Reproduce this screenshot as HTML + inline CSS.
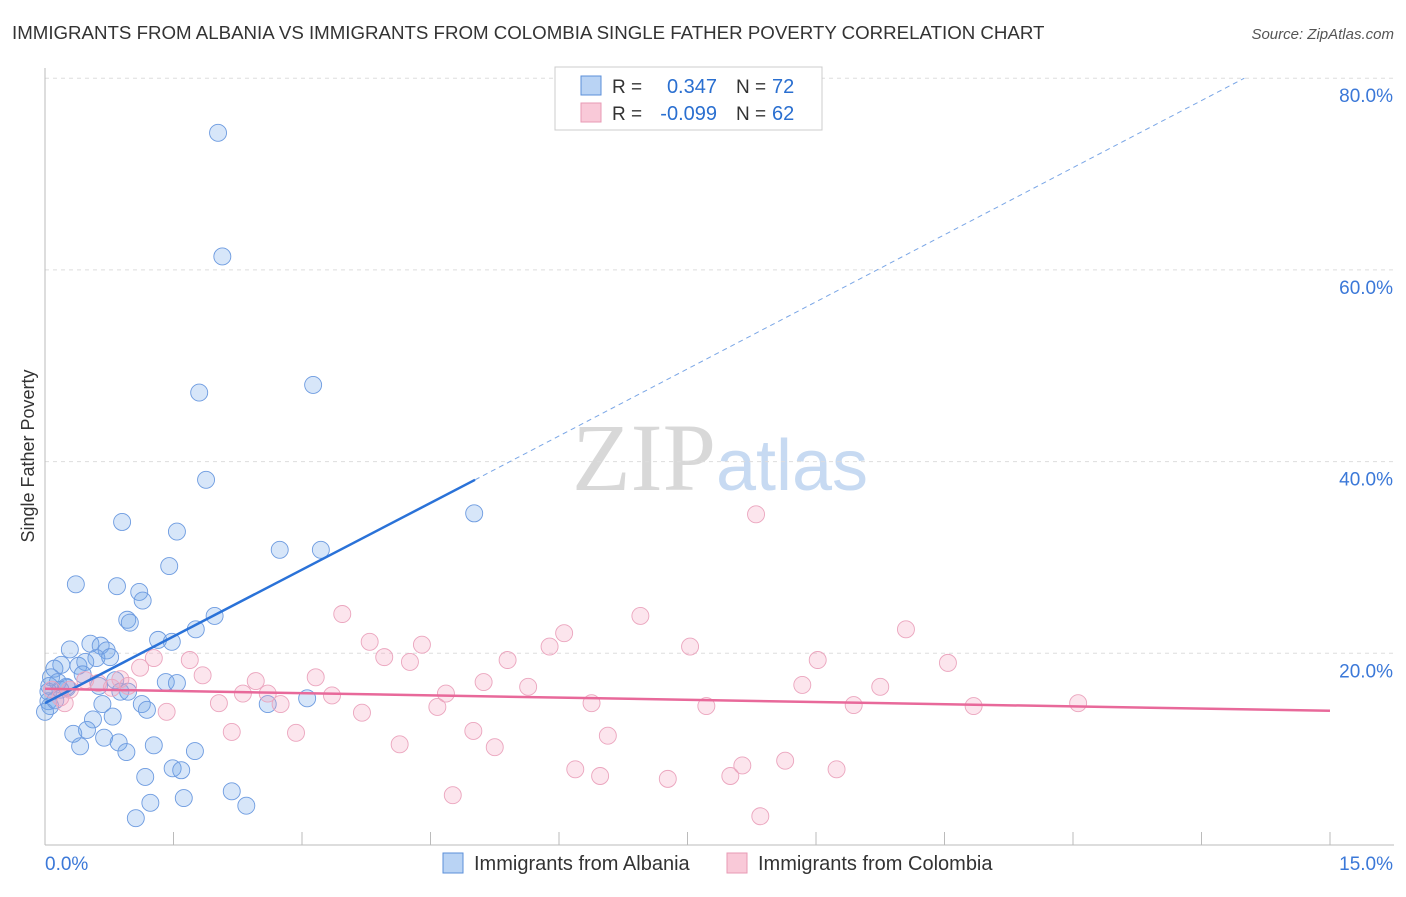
<!DOCTYPE html>
<html><head><meta charset="utf-8"><style>
body{margin:0;background:#fff;font-family:"Liberation Sans",sans-serif;}
svg text{font-family:"Liberation Sans",sans-serif;}
</style></head><body>
<svg id="chart" width="1406" height="892" xmlns="http://www.w3.org/2000/svg">
<text x="12" y="39" font-size="18.7" fill="#333">IMMIGRANTS FROM ALBANIA VS IMMIGRANTS FROM COLOMBIA SINGLE FATHER POVERTY CORRELATION CHART</text>
<text x="1394" y="39" font-size="15" fill="#555" text-anchor="end" font-style="italic">Source: ZipAtlas.com</text>
<text transform="translate(34,456) rotate(-90)" font-size="18" fill="#333" text-anchor="middle">Single Father Poverty</text>
<text x="720" y="490" font-size="96" text-anchor="middle"><tspan fill="#d8d8d8" font-family="Liberation Serif">ZIP</tspan><tspan fill="#c7daf2" font-size="72">atlas</tspan></text>
<g id="grid"></g><g id="axes"></g><g id="pts"></g><g id="lines"></g>
<g>
<rect x="555" y="67" width="267" height="63" fill="#fff" stroke="#ccc"/>
<rect x="581" y="76" width="20" height="19" fill="#b9d3f4" stroke="#5b8fd9"/>
<rect x="581" y="103" width="20" height="19" fill="#f9c9d8" stroke="#e89ab5"/>
<text x="612" y="93" font-size="19" fill="#333">R =</text>
<text x="717" y="93" font-size="20" fill="#2a6fd0" text-anchor="end">0.347</text>
<text x="736" y="93" font-size="19" fill="#333">N =</text>
<text x="772" y="93" font-size="20" fill="#2a6fd0">72</text>
<text x="612" y="120" font-size="19" fill="#333">R =</text>
<text x="717" y="120" font-size="20" fill="#2a6fd0" text-anchor="end">-0.099</text>
<text x="736" y="120" font-size="19" fill="#333">N =</text>
<text x="772" y="120" font-size="20" fill="#2a6fd0">62</text>
</g>
<g>
<rect x="443" y="853" width="20" height="20" fill="#b9d3f4" stroke="#5b8fd9"/>
<text x="474" y="870" font-size="20" fill="#333">Immigrants from Albania</text>
<rect x="727" y="853" width="20" height="20" fill="#f9c9d8" stroke="#e89ab5"/>
<text x="758" y="870" font-size="20" fill="#333">Immigrants from Colombia</text>
</g>
</svg>
<script>
const xTicks=[0,1.5,3,4.5,6,7.5,9,10.5,12,13.5,15];
const yTicks=[20,40,60,80];
const yTickLabels=["20.0%","40.0%","60.0%","80.0%"];
const xEndLabels=["0.0%","15.0%"];
const albaniaX=[2.02,2.07,1.80,3.13,1.88,0.90,1.54,5.01,2.74,3.22,1.45,0.36,0.84,1.10,1.14,0.96,0.99,1.98,1.76,1.32,1.48,0.53,0.29,0.65,0.72,0.60,0.76,0.19,0.39,0.11,0.47,0.07,0.44,0.15,0.26,0.05,0.63,0.82,1.41,1.54,0.88,0.97,0.04,0.06,1.13,1.19,0.67,2.60,3.06,0.56,0.79,0.49,0.33,0.69,0.86,0.41,0.95,1.27,1.75,1.17,1.49,1.59,1.62,1.23,1.06,2.18,2.35,0.18,0.04,0.25,0.0,0.12];
const albaniaY=[74.3,61.4,47.2,48.0,38.1,33.7,32.7,34.6,30.8,30.8,29.1,27.2,27.0,26.4,25.5,23.5,23.2,23.9,22.5,21.4,21.2,21.0,20.4,20.8,20.3,19.5,19.6,18.8,18.7,18.4,19.1,17.5,17.8,17.0,16.4,16.6,16.6,17.2,17.0,16.9,16.0,16.0,15.0,14.5,14.7,14.1,14.7,14.7,15.3,13.1,13.4,12.0,11.6,11.2,10.7,10.3,9.7,10.4,9.8,7.1,8.0,7.8,4.9,4.4,2.8,5.6,4.1,16.2,16.0,16.5,13.9,15.1];
const colombiaX=[8.30,3.47,6.95,10.05,6.06,3.79,4.40,5.89,7.53,1.27,1.69,3.96,4.26,5.40,9.02,10.54,1.11,1.84,3.16,2.46,5.12,5.64,8.84,9.75,0.62,0.78,2.31,2.60,3.35,4.68,2.03,2.75,6.38,7.72,9.44,10.84,12.06,4.58,1.42,3.70,5.00,2.18,2.93,6.57,4.14,5.25,8.14,6.19,6.48,7.27,8.00,8.64,9.24,4.76,8.35,0.18,0.29,0.47,0.97,0.88,0.08,0.23];
const colombiaY=[34.5,24.1,23.9,22.5,22.1,21.2,20.9,20.7,20.7,19.5,19.3,19.6,19.1,19.3,19.3,19.0,18.5,17.7,17.5,17.1,17.0,16.5,16.7,16.5,16.9,16.4,15.8,15.8,15.6,15.8,14.8,14.7,14.8,14.5,14.6,14.5,14.8,14.4,13.9,13.8,11.9,11.8,11.7,11.4,10.5,10.2,8.3,7.9,7.2,6.9,7.2,8.8,7.9,5.2,3.0,15.4,16.2,17.2,16.6,17.3,16.2,14.8];
const albaniaTrend=[[0,14.8],[5.02,38.1],[14.0,80]];
const colombiaTrend=[[0,16.3],[15,14.0]];
const NS="http://www.w3.org/2000/svg";
const X=v=>45+v/15*1285, Y=v=>845-v*9.585;
function mk(tag,attrs,parent){const e=document.createElementNS(NS,tag);for(const k in attrs)e.setAttribute(k,attrs[k]);document.getElementById(parent).appendChild(e);return e;}
yTicks.forEach((t,i)=>{
 const g=mk('line',{x1:45,x2:1394,y1:Y(t),y2:Y(t),stroke:'#ddd','stroke-dasharray':'4,4'},'grid');
 
 
 const l=mk('text',{x:1393,y:Y(t)+24,'font-size':19,fill:'#3b78d8','text-anchor':'end'},'grid');
 l.textContent=yTickLabels[i];
 
 
});
const ax=mk('line',{x1:45,x2:45,y1:68,y2:845,stroke:'#bbb'},'axes');


const bx=mk('line',{x1:45,x2:1394,y1:845,y2:845,stroke:'#bbb'},'axes');


xTicks.forEach(t=>{
 const k=mk('line',{x1:X(t),x2:X(t),y1:832,y2:845,stroke:'#bbb'},'axes');
 
 
});
const xl0=mk('text',{x:45,y:870,'font-size':19,fill:'#3b78d8'},'axes');
xl0.textContent=xEndLabels[0];


const xl1=mk('text',{x:1393,y:870,'font-size':19,fill:'#3b78d8','text-anchor':'end'},'axes');
xl1.textContent=xEndLabels[1];


albaniaX.forEach((v,i)=>{
 const c=mk('circle',{cx:X(v),cy:Y(albaniaY[i]),r:8.5,fill:'rgba(110,165,235,0.28)',stroke:'#6d9be0','stroke-width':0.9},'pts');
 
 
});
colombiaX.forEach((v,i)=>{
 const c=mk('circle',{cx:X(v),cy:Y(colombiaY[i]),r:8.5,fill:'rgba(245,160,190,0.28)',stroke:'#eba5be','stroke-width':0.9},'pts');
 
 
});
const a=albaniaTrend;
const s1=mk('line',{x1:X(a[0][0]),y1:Y(a[0][1]),x2:X(a[1][0]),y2:Y(a[1][1]),stroke:'#2a72d8','stroke-width':2.5},'lines');


const s2=mk('line',{x1:X(a[1][0]),y1:Y(a[1][1]),x2:X(a[2][0]),y2:Y(a[2][1]),stroke:'#7aa6e6','stroke-width':1,'stroke-dasharray':'5,4'},'lines');


const c0=colombiaTrend;
const s3=mk('line',{x1:X(c0[0][0]),y1:Y(c0[0][1]),x2:X(c0[1][0]),y2:Y(c0[1][1]),stroke:'#e8699a','stroke-width':2.5},'lines');


</script>
</body></html>
